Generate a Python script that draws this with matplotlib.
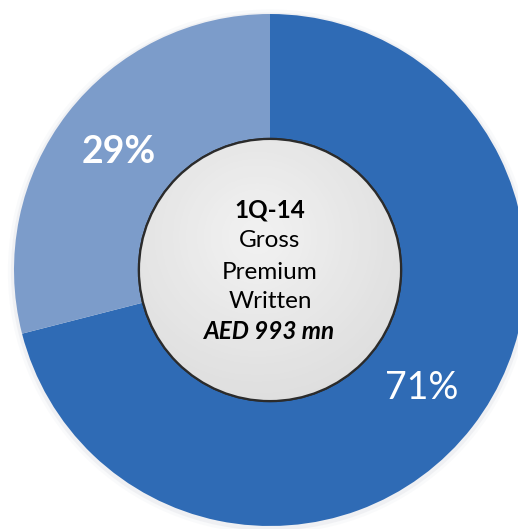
import matplotlib.pyplot as plt
import numpy as np
from matplotlib.patches import Circle

# share of gross premium written, 1Q-14
shares = [71, 29]
colors = ['#2f6bb5', '#7c9cca']
center_lines = ['1Q-14', 'Gross', 'Premium', 'Written', 'AED 993 mn']

plt.rcParams['font.family'] = ['Lato', 'DejaVu Sans']

fig = plt.figure(figsize=(5.18, 5.29), dpi=100)
ax = fig.add_axes([0, 0, 1, 1])

inner = 0.512
wedges, texts, autotexts = ax.pie(
    shares, colors=colors, startangle=90, counterclock=False,
    radius=1.0, autopct='%.0f%%', pctdistance=0.75,
    wedgeprops=dict(width=1 - inner, edgecolor='none'),
    textprops=dict(color='white', fontsize=27))
autotexts[1].set_fontweight('bold')

# soft halo round the ring
for r, a in [(1.012, 0.10), (1.024, 0.05)]:
    ax.add_patch(Circle((0, -0.006), r, facecolor='#9aa6b8', alpha=a,
                        edgecolor='none', zorder=0))

# grey centre disc with a light radial gradient
disc = Circle((0, 0), inner, facecolor='#d6d6d6', edgecolor='#2b2b2b',
              linewidth=1.6, zorder=3)
ax.add_patch(disc)
yy, xx = np.mgrid[-1:1:300j, -1:1:300j]
glow = 1 - np.clip(np.hypot(xx + 0.1, yy - 0.25) / 1.5, 0, 1)
img = ax.imshow(glow, extent=(-inner, inner, -inner, inner), cmap='Greys_r',
                vmin=-6.0, vmax=1.9, origin='lower', zorder=3.5,
                interpolation='bilinear')
img.set_clip_path(disc)
ax.add_patch(Circle((0, 0), inner, facecolor='none', edgecolor='#2b2b2b',
                    linewidth=1.6, zorder=4))

ys = [0.234, 0.117, -0.008, -0.125, -0.242]
styles = [('bold', 'normal'), ('normal', 'normal'), ('normal', 'normal'),
          ('normal', 'normal'), ('bold', 'italic')]
for line, y, (w, s) in zip(center_lines, ys, styles):
    ax.text(0, y, line, ha='center', va='center', fontsize=17.5,
            fontweight=w, fontstyle=s, color='black', zorder=5)

ax.set_xlim(-270 / 256, 248 / 256)
ax.set_ylim(-259 / 256, 270 / 256)
ax.set_aspect('auto')
ax.axis('off')

fig.savefig('out.png', dpi=100)
